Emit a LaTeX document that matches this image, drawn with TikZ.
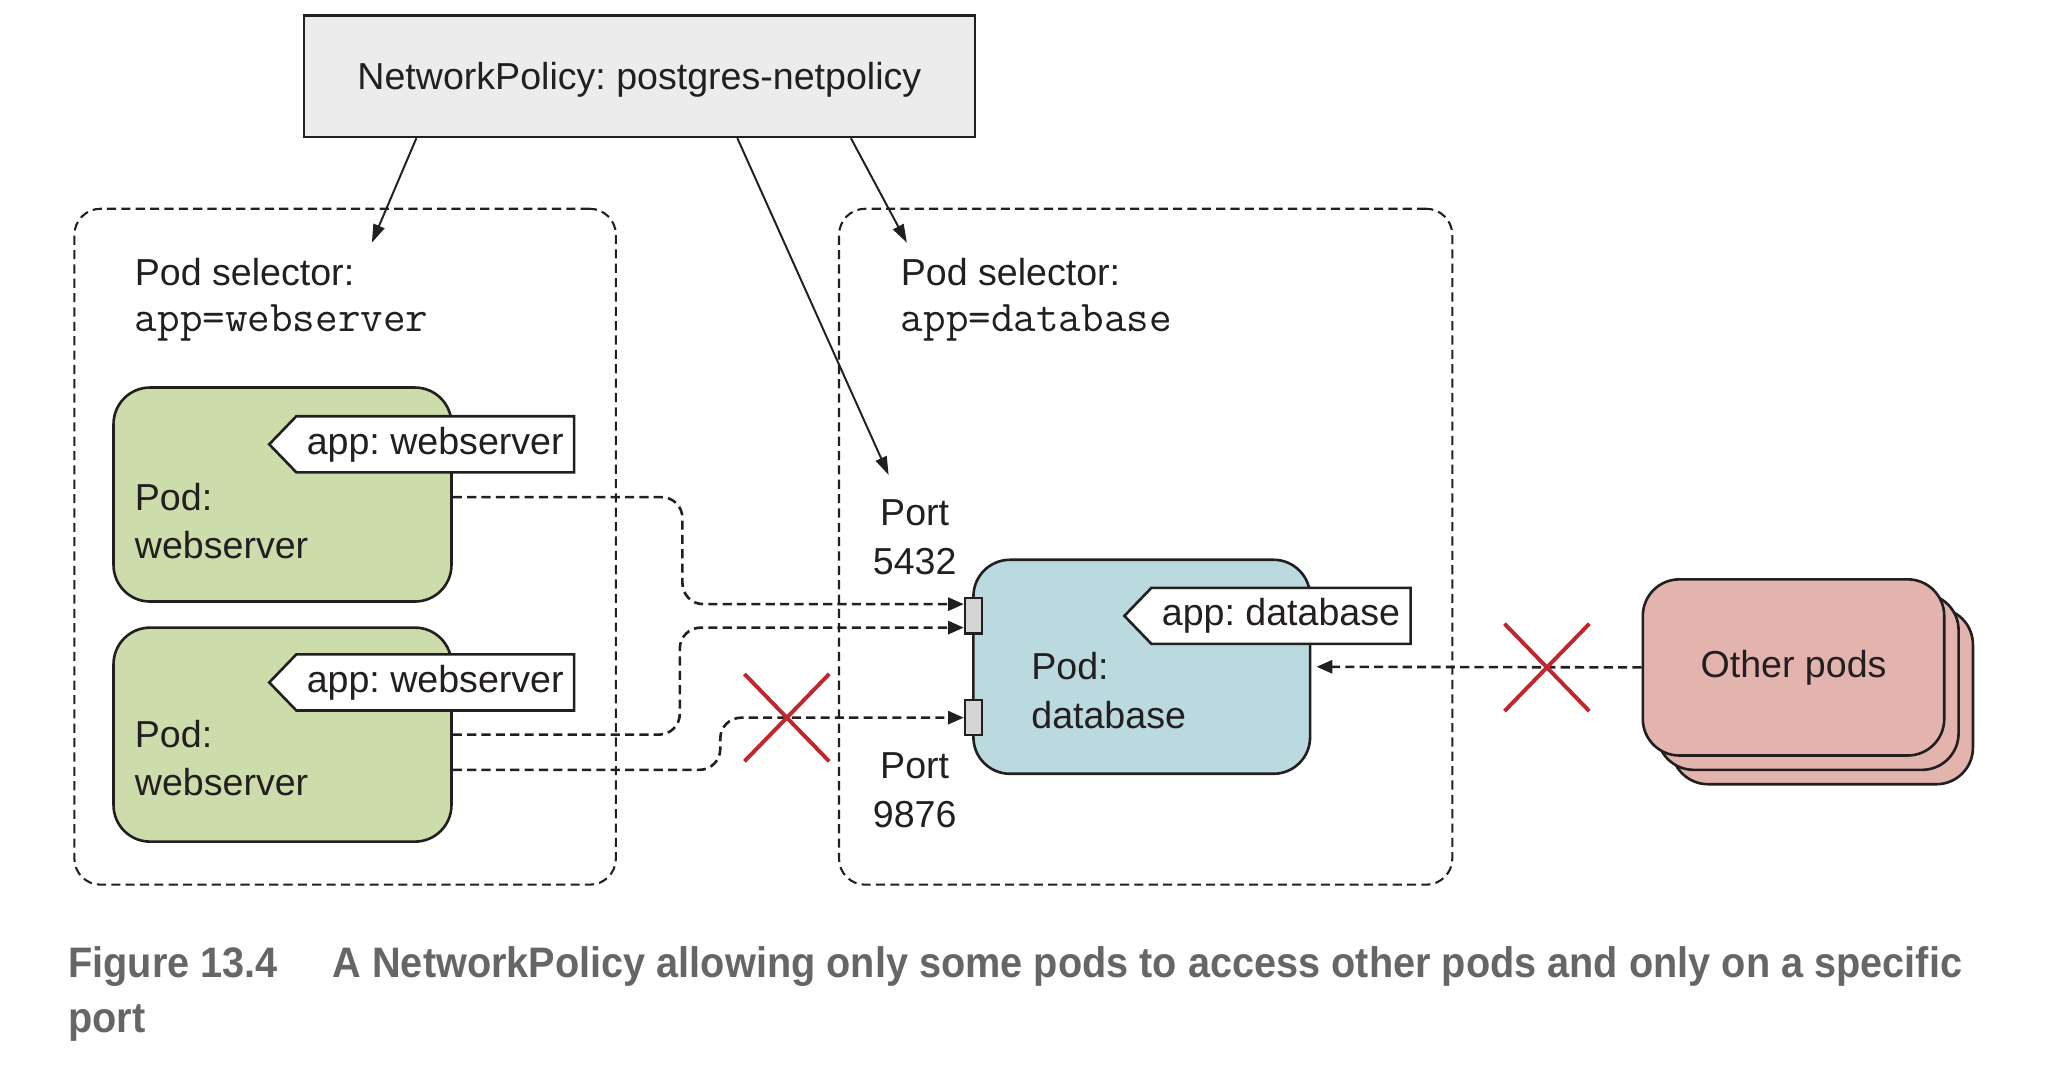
\documentclass[tikz,border=0pt]{standalone}
\usepackage{fontspec}
\setmainfont{Liberation Sans}
\newfontfamily\captionfont[FakeStretch=0.93]{Liberation Sans}
\usepackage{xcolor}
\usetikzlibrary{
arrows.meta,
positioning,
shapes.symbols,
shapes.misc
}
\definecolor{ink}{HTML}{231F20}
\definecolor{webgreen}{HTML}{CDDCAB}
\definecolor{dbblue}{HTML}{BADAE0}
\definecolor{otherpink}{HTML}{E3B4AE}
\definecolor{portgray}{HTML}{D4D4D4}
\definecolor{denyred}{HTML}{C0272D}
\definecolor{captiongray}{HTML}{666666}
\tikzset{
  diagramtext/.style={
    font=\fontsize{14.4}{18.5}\selectfont,
    text=ink
  },
  % Plain text placed at its baseline:
  lbl/.style={
    anchor=base west,
    inner sep=0pt
  },
  % Dashed traffic between pods:
  flow/.style={
    draw=ink,
    line width=1pt,
    dash pattern=on 3.5pt off 2pt,
    rounded corners=8pt,
    -{Triangle[length=6pt,width=5pt]}
  }
}

\begin{document}
\frenchspacing
\begin{tikzpicture}[
    x=0.5pt, y=-0.5pt,
    every node/.style={diagramtext},
    policy/.style={
      draw=ink,
      line width=0.9pt,
      fill=gray!15,
      minimum width=257pt,
      minimum height=46.5pt,
      text depth=0pt
    },
    selectorbox/.style={
      draw=ink,
      line width=0.8pt,
      dash pattern=on 3.5pt off 2pt,
      rounded corners=10pt,
      minimum height=259pt
    },
    pod/.style={
      draw=ink,
      line width=1pt,
      rounded corners=14pt,
      minimum width=129.5pt,
      minimum height=82pt
    },
    podtag/.style={
      draw=ink,
      line width=1pt,
      fill=white,
      signal,
      signal to=west,
      signal pointer angle=92,
      minimum height=21.5pt,
      inner xsep=4pt,
      inner ysep=0pt,
      anchor=east
    },
    portbox/.style={
      draw=ink,
      line width=0.9pt,
      fill=portgray,
      inner sep=0pt,
      minimum width=6.5pt,
      minimum height=13.5pt
    },
    denied/.style={
      cross out,
      draw=denyred,
      line width=1.5pt,
      inner sep=0pt,
      minimum width=31pt,
      minimum height=32pt
    },
    reference/.style={
      draw=ink,
      line width=0.75pt,
      -{Triangle[length=7pt,width=4.5pt]}
    },
    mono/.style={
      font=\fontsize{16.8}{19}\selectfont\ttfamily
    },
    caption/.style={
      lbl,
      text=captiongray,
      font=\fontsize{16.35}{21}\selectfont\captionfont\bfseries
    }
  ]
  \useasboundingbox (0,0) rectangle (1568,817);
  \node[policy] (np) at (490,58.5) {NetworkPolicy: postgres-netpolicy};
  \node[selectorbox,minimum width=207.5pt] (webgroup) at (264.5,419) {};
  \node[selectorbox,minimum width=235pt] (dbgroup) at (878,419) {};
  \node[lbl] (websel) at (103,218.5) {Pod selector:};
  \node[lbl,mono,yshift=-17.75pt] (webselval) at (websel.base west) {app=webserver};
  \node[lbl] (dbsel) at (690,218.5) {Pod selector:};
  \node[lbl,mono,yshift=-17.75pt] (dbselval) at (dbsel.base west) {app=database};
  % webserver pods
  \node[pod,fill=webgreen] (ws1) at (216.5,379) {};
  \node[podtag] (ws1tag) at (441,340.5) {app: webserver};
  \node[lbl] (ws1kind) at (103,391) {Pod:};
  \node[lbl,yshift=-18.5pt] (ws1name) at (ws1kind.base west) {webserver};
  \node[pod,fill=webgreen] (ws2) at (216.5,563) {};
  \node[podtag] (ws2tag) at (441,523) {app: webserver};
  \node[lbl] (ws2kind) at (103,573) {Pod:};
  \node[lbl,yshift=-18.5pt] (ws2name) at (ws2kind.base west) {webserver};
  % database pod and its ports
  \node[pod,fill=dbblue,minimum width=129pt] (db) at (875,511) {};
  \node[podtag] (dbtag) at (1082,472) {app: database};
  \node[lbl] (dbkind) at (790,521) {Pod:};
  \node[lbl,yshift=-18.5pt] (dbname) at (dbkind.base west) {database};
  \node[portbox] (port1) at (746,472) {};
  \node[portbox] (port2) at (746,550) {};
  \node[anchor=base] (port1lbl) at (701,403) {Port};
  \node[anchor=base,yshift=-18.5pt] (port1num) at (port1lbl.base) {5432};
  \node[anchor=base] (port2lbl) at (701,597) {Port};
  \node[anchor=base,yshift=-18.5pt] (port2num) at (port2lbl.base) {9876};
  % other pods
  \node[pod,fill=otherpink,minimum width=115.5pt,minimum height=67.5pt] (others3) at (1396.5,533.5) {};
  \node[pod,fill=otherpink,minimum width=115.5pt,minimum height=67.5pt,xshift=-5.5pt,yshift=5.5pt] (others2) at (others3.center) {};
  \node[pod,fill=otherpink,minimum width=115.5pt,minimum height=67.5pt,xshift=-5.5pt,yshift=5.5pt] (others1) at (others2.center) {Other pods};
  % selector references
  \coordinate (webselpt) at (285,186);
  \coordinate (dbselpt) at (695,186);
  \coordinate (portpt) at (681,364);
  \draw[reference] ([xshift=43.5pt]np.south west) -- (webselpt);
  \draw[reference] ([xshift=166.5pt]np.south west) -- (portpt);
  \draw[reference] ([xshift=210pt]np.south west) -- (dbselpt);
  % traffic
  \draw[flow] ([yshift=-1pt]ws1.east) -| (523,420) |- ([yshift=4.5pt]port1.west);
  \draw[flow] (ws2.east) -| (521,520) |- ([yshift=-4.5pt]port1.west);
  \draw[flow] ([yshift=-13.5pt]ws2.east) -| (552,550) -- (port2.west);
  \draw[flow] (others1.west) -- ([xshift=2pt]db.east);
  \node[denied] (deny1) at (603,550) {};
  \node[denied] (deny2) at (1185.5,511.5) {};
  % caption
  \node[caption] (caption1) at (52,749) {Figure 13.4\hspace{21pt}A NetworkPolicy allowing only some pods to access other pods and only on a specific};
  \node[caption] (caption2) at (52,791) {port};
\end{tikzpicture}
\end{document}
